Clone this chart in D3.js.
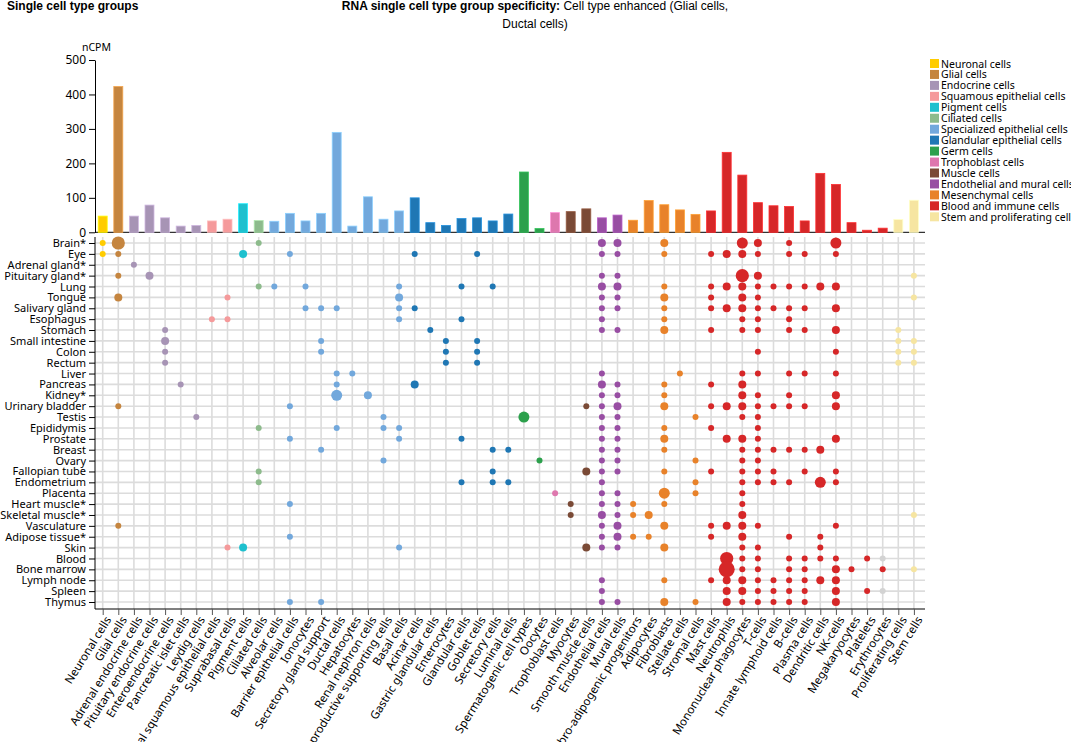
<!DOCTYPE html>
<html><head><meta charset="utf-8">
<script src="https://cdn.jsdelivr.net/npm/d3@7/dist/d3.min.js"></script>
<style>body{margin:0;background:#fff}svg{display:block}</style>
</head><body><svg id="c" width="1071" height="742"></svg>
<script>
const cellTypes=["Neuronal cells","Glial cells","Adrenal endocrine cells","Pituitary endocrine cells","Enteroendocrine cells","Pancreatic islet cells","Leydig cells","Typical squamous epithelial cells","Suprabasal cells","Pigment cells","Ciliated cells","Alveolar cells","Barrier epithelial cells","Ionocytes","Secretory gland support","Ductal cells","Hepatocytes","Renal nephron cells","Reproductive supporting cells","Basal cells","Acinar cells","Gastric glandular cells","Enterocytes","Glandular cells","Goblet cells","Secretory cells","Luminal cells","Spermatogenic cell types","Oocytes","Trophoblast cells","Myocytes","Smooth muscle cells","Endothelial cells","Mural cells","Fibro-adipogenic progenitors","Adipocytes","Fibroblasts","Stellate cells","Stromal cells","Mast cells","Neutrophils","Mononuclear phagocytes","T-cells","Innate lymphoid cells","B-cells","Plasma cells","Dendritic cells","NK-cells","Megakaryocytes","Platelets","Erythrocytes","Proliferating cells","Stem cells"];
const cellGroup=[0,1,2,2,2,2,2,3,3,4,5,6,6,6,6,6,6,6,6,6,7,7,7,7,7,7,7,8,8,9,10,10,11,11,12,12,12,12,12,13,13,13,13,13,13,13,13,13,13,13,13,14,14];
const nCPM=[47,423,47,79,42,18,20,33,38,83,34,32,55,33,55,290,18,103,38,62,100,28,20,40,42,33,53,175,11,57,60,68,42,50,35,92,80,65,52,62,232,166,86,77,75,33,171,139,28,6,12,37,93];
const groups=["Neuronal cells","Glial cells","Endocrine cells","Squamous epithelial cells","Pigment cells","Ciliated cells","Specialized epithelial cells","Glandular epithelial cells","Germ cells","Trophoblast cells","Muscle cells","Endothelial and mural cells","Mesenchymal cells","Blood and immune cells","Stem and proliferating cells"];
const groupColors=["#ffcc00","#c5853f","#a794b5","#f59a9b","#1ec0ce","#8dbb8c","#72a8dc","#1f77b4","#2ca04c","#de77ae","#7a4a36","#984ea3","#e8822a","#d62728","#f6e5a1"];
const tissues=["Brain*","Eye","Adrenal gland*","Pituitary gland*","Lung","Tongue","Salivary gland","Esophagus","Stomach","Small intestine","Colon","Rectum","Liver","Pancreas","Kidney*","Urinary bladder","Testis","Epididymis","Prostate","Breast","Ovary","Fallopian tube","Endometrium","Placenta","Heart muscle*","Skeletal muscle*","Vasculature","Adipose tissue*","Skin","Blood","Bone marrow","Lymph node","Spleen","Thymus"];
// per tissue: [cell type index, size level, grey?]
const dots=[
[[0,1],[1,4],[10,1],[32,2],[33,2],[36,2],[41,3],[42,2],[44,1],[47,3]],
[[0,1],[1,1],[9,2],[12,1],[20,1],[24,1],[32,1],[33,1],[36,1],[39,1],[40,2],[41,2],[42,1],[44,1],[45,1],[47,1]],
[[2,1]],
[[1,1],[3,2],[32,1],[33,1],[41,4],[42,2],[52,1]],
[[10,1],[11,1],[13,1],[19,1],[23,1],[25,1],[32,2],[33,2],[36,1],[39,1],[40,2],[41,2],[42,1],[43,1],[44,1],[45,1],[46,2],[47,2]],
[[1,2],[8,1],[19,2],[32,1],[33,1],[36,2],[39,1],[41,2],[42,1],[52,1]],
[[13,1],[14,1],[15,1],[19,1],[20,1],[32,1],[33,1],[36,1],[39,1],[40,2],[41,2],[42,1],[43,1],[44,1],[45,1],[47,2]],
[[7,1],[8,1],[19,1],[23,1],[32,1],[36,1],[41,1],[42,1],[44,1]],
[[4,1],[21,1],[32,1],[33,1],[36,2],[39,1],[41,1],[42,1],[44,1],[45,1],[47,2],[51,1]],
[[4,2],[14,1],[22,1],[24,1],[51,1],[52,1]],
[[4,1],[14,1],[22,1],[24,1],[42,1],[47,1],[51,1],[52,1]],
[[4,1],[22,1],[24,1],[51,1],[52,1]],
[[15,1],[16,1],[32,1],[37,1],[41,1],[42,1],[44,1],[45,1],[47,1]],
[[5,1],[15,1],[20,2],[32,2],[33,1],[36,1],[39,1],[41,2]],
[[15,3],[17,2],[32,1],[33,1],[36,1],[41,2],[42,1],[44,1],[47,2]],
[[1,1],[12,1],[31,1],[32,1],[33,2],[36,2],[39,1],[40,2],[41,2],[42,1],[43,1],[44,1],[45,1],[47,2]],
[[6,1],[18,1],[27,3],[32,1],[33,1],[38,1],[41,1],[42,1]],
[[10,1],[15,1],[18,1],[19,1],[32,1],[33,1],[36,1],[39,1],[42,1]],
[[12,1],[19,1],[23,1],[32,1],[33,1],[36,2],[40,2],[41,2],[42,1],[47,2]],
[[14,1],[25,1],[26,1],[32,1],[33,1],[36,1],[41,1],[42,1],[43,1],[44,1],[45,1],[46,2]],
[[18,1],[28,1],[32,1],[33,1],[38,1],[41,1],[42,1]],
[[10,1],[25,1],[31,2],[32,1],[33,1],[36,1],[39,1],[41,1],[42,1],[43,1],[45,1],[47,1]],
[[10,1],[23,1],[25,1],[26,1],[32,1],[38,1],[41,1],[42,1],[43,1],[44,1],[46,3],[47,1]],
[[29,1],[32,1],[33,1],[36,3],[38,1],[41,1]],
[[12,1],[30,1],[32,1],[33,1],[34,1],[36,1],[41,1]],
[[30,1],[32,2],[33,1],[34,1],[35,2],[41,2],[52,1]],
[[1,1],[32,1],[33,2],[36,2],[39,1],[40,2],[41,2],[42,1],[47,1]],
[[12,1],[32,1],[33,2],[34,1],[35,1],[39,1],[41,2],[44,1],[46,1]],
[[8,1],[9,2],[19,1],[31,2],[32,1],[33,1],[36,2],[41,1],[42,1],[46,1]],
[[40,4],[41,1],[42,1],[44,1],[45,1],[46,1],[47,1],[49,1],[50,1,1]],
[[40,5],[41,1],[42,1],[44,1],[45,1],[47,2],[48,1],[50,1],[52,1]],
[[32,1],[36,1],[39,1],[40,2],[41,2],[42,1],[43,1],[44,1],[45,1],[46,2],[47,2]],
[[32,1],[40,2],[41,2],[42,1],[43,1],[44,1],[45,1],[47,2],[49,1],[50,1,1]],
[[12,1],[14,1],[32,1],[33,1],[36,2],[38,1],[40,2],[41,1],[42,1],[43,1],[44,1],[45,1],[47,2]]
];
const yTicks=[0,100,200,300,400,500];

const svg=d3.select("#c");
const F="'Noto Sans','DejaVu Sans',sans-serif";
const x=d3.scalePoint().domain(cellTypes).range([102.7,913.9]);
const yb=d3.scaleLinear().domain([0,500]).range([232.3,60]);
const yr=d3.scalePoint().domain(tissues).range([243,602]);
const rad=[0,3,4,5.5,6.6,8];
const col=i=>groupColors[cellGroup[i]];

svg.append("text").attr("x",7).attr("y",10).attr("font-family","'Liberation Sans',Arial,sans-serif").attr("font-weight","bold").attr("font-size",12).text("Single cell type groups");
const t=svg.append("text").attr("x",535).attr("y",10).attr("text-anchor","middle").attr("font-family","'Liberation Sans',Arial,sans-serif").attr("font-size",12);
t.append("tspan").attr("font-weight","bold").text("RNA single cell type group specificity:");
t.append("tspan").text(" Cell type enhanced (Glial cells,");
svg.append("text").attr("x",535).attr("y",28).attr("text-anchor","middle").attr("font-family","'Liberation Sans',Arial,sans-serif").attr("font-size",12).text("Ductal cells)");

const ga=svg.append("g").attr("transform","translate(95,0)").call(d3.axisLeft(yb).tickValues(yTicks).tickSize(6).tickSizeOuter(0));
ga.selectAll("text").attr("font-family",F).attr("font-size",12).attr("fill","#000");
ga.selectAll("line,path").attr("stroke","#000");
svg.append("text").attr("x",82).attr("y",51).attr("font-family",F).attr("font-size",10.5).text("nCPM");
svg.append("line").attr("x1",95).attr("x2",925).attr("y1",232.3).attr("y2",232.3).attr("stroke","#000");
svg.append("g").selectAll("rect").data(cellTypes).join("rect")
 .attr("x",d=>x(d)-4.5).attr("width",9).attr("y",(d,i)=>yb(nCPM[i])).attr("height",(d,i)=>yb(0)-yb(nCPM[i]))
 .attr("fill",(d,i)=>col(i)).attr("stroke",(d,i)=>d3.color(col(i)).brighter(0.6)).attr("stroke-width",0.8);

const g=svg.append("g");
g.selectAll(".h").data(tissues).join("line").attr("x1",95).attr("x2",925).attr("y1",d=>yr(d)).attr("y2",d=>yr(d)).attr("stroke","#dcdcdc").attr("stroke-width",1.6);
g.selectAll(".v").data(cellTypes).join("line").attr("y1",237).attr("y2",609).attr("x1",d=>x(d)).attr("x2",d=>x(d)).attr("stroke","#dcdcdc").attr("stroke-width",1.6);
const yl=svg.append("g").attr("transform","translate(95,0)").call(d3.axisLeft(yr).tickSize(6).tickSizeOuter(0));
yl.select(".domain").attr("d","M0,237V609");
yl.selectAll("text").attr("font-family",F).attr("font-size",11).attr("fill","#000");
yl.selectAll("line,path").attr("stroke","#000");
const xl=svg.append("g").attr("transform","translate(0,609)").call(d3.axisBottom(x).tickSize(6).tickSizeOuter(0));
xl.select(".domain").attr("d","M95,0H925").attr("stroke","#000");
xl.selectAll("line").attr("stroke","#555");
xl.selectAll("text").attr("font-family",F).attr("font-size",11.5).attr("fill","#000")
 .attr("text-anchor","end").attr("dy","0.3em").attr("transform","translate(-2,4) rotate(-58)");

const flat=[];dots.forEach((r,ti)=>r.forEach(d=>flat.push({t:tissues[ti],c:d[0],s:d[1],g:d[2]})));
svg.append("g").selectAll("circle").data(flat).join("circle")
 .attr("cx",d=>x(cellTypes[d.c])).attr("cy",d=>yr(d.t)).attr("r",d=>rad[d.s])
 .attr("fill",d=>d.g?"#d3d3d3":col(d.c));

const lg=svg.append("g").attr("transform","translate(930,59)");
groups.forEach((n,i)=>{
 lg.append("rect").attr("x",0).attr("y",i*10.95).attr("width",9).attr("height",9).attr("fill",groupColors[i]);
 lg.append("text").attr("x",11).attr("y",i*10.95+8.5).attr("font-family",F).attr("font-size",10.5).text(n);
});
</script></body></html>
